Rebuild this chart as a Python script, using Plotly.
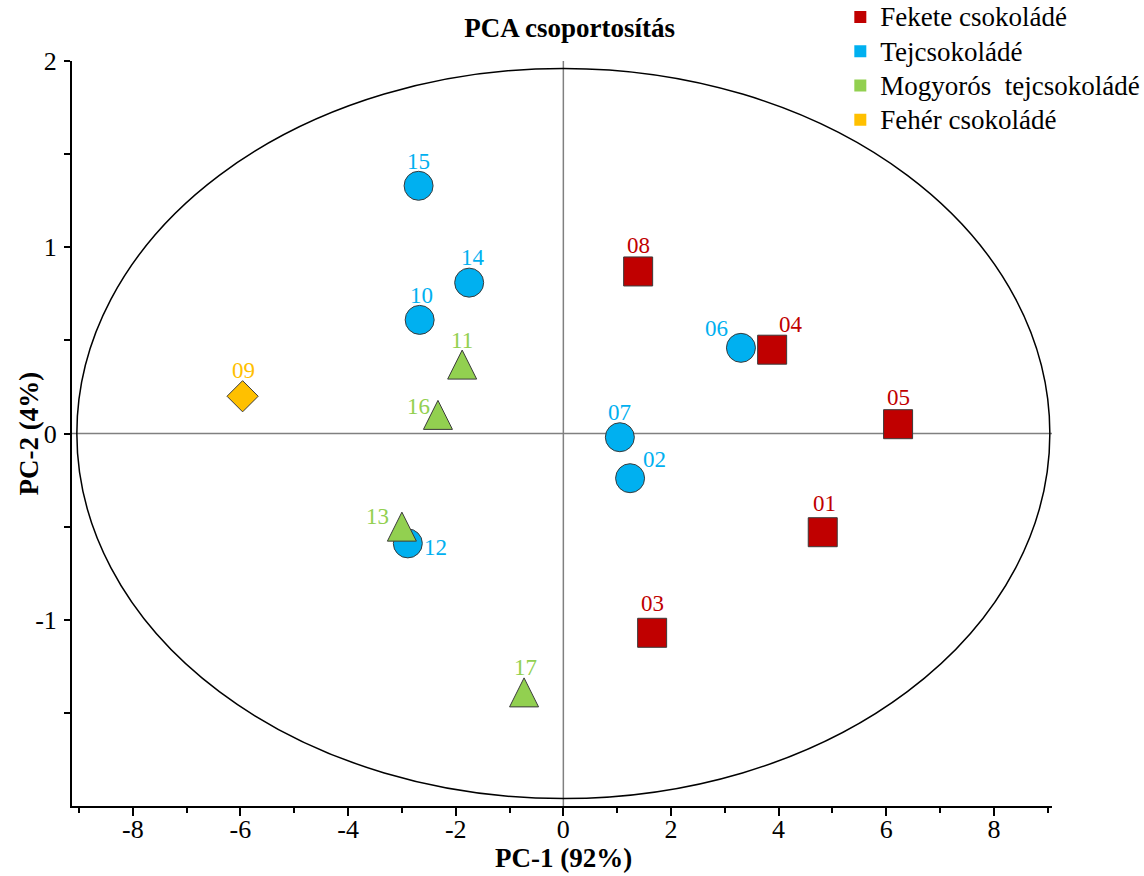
import plotly.graph_objects as go

# ---------------- data ----------------
groups = ["Fekete csokoládé", "Tejcsokoládé", "Mogyorós&nbsp; tejcsokoládé", "Fehér csokoládé"]

dark_ids = ["01", "03", "04", "05", "08"]
dark_pc1 = [4.82, 1.65, 3.88, 6.22, 1.39]
dark_pc2 = [-0.53, -1.07, 0.45, 0.05, 0.87]

milk_ids = ["02", "06", "07", "10", "12", "14", "15"]
milk_pc1 = [1.24, 3.30, 1.05, -2.67, -2.89, -1.75, -2.69]
milk_pc2 = [-0.24, 0.46, -0.02, 0.61, -0.59, 0.81, 1.33]

nut_ids = ["11", "13", "16", "17"]
nut_pc1 = [-1.88, -3.00, -2.33, -0.73]
nut_pc2 = [0.37, -0.50, 0.10, -1.39]

white_ids = ["09"]
white_pc1 = [-5.96]
white_pc2 = [0.20]

ellipse_rx = 9.04
ellipse_ry = 1.96

x_ticks = [-8, -6, -4, -2, 0, 2, 4, 6, 8]
x_ticktext = ["-8", "-6", "-4", "-2", "0", "2", "4", "6", "8"]
y_ticks = [-1, 0, 1, 2]
y_ticktext = ["-1", "0", "1", "2"]
y_minor = [-1.5, -0.5, 0.5, 1.5]

title_text = "PCA csoportosítás"
x_title = "PC-1 (92%)"
y_title = "PC-2 (4%)"

# ---------------- styles ----------------
FONT = "Liberation Serif"
colors = ["#C00000", "#00B0F0", "#92D050", "#FFC000"]
EDGE = "#3a3a3a"

# label pixel offsets (dx, dy) per id; dy positive = up
label_offsets = {
    "01": (2, 29), "03": (0, 29), "04": (19, 25), "05": (0, 27), "08": (0, 26),
    "02": (24, 19), "06": (-24, 19), "07": (0, 25), "10": (2, 24), "12": (28, -4),
    "14": (4, 25), "15": (0, 24),
    "11": (0, 24), "13": (-24, 10), "16": (-19, 8), "17": (1, 25),
    "09": (1, 26),
}

fig = go.Figure()

series = [
    (dark_ids, dark_pc1, dark_pc2, dict(symbol="square", size=29)),
    (milk_ids, milk_pc1, milk_pc2, dict(symbol="circle", size=29)),
    (nut_ids, nut_pc1, nut_pc2, dict(symbol="arrow-down", size=29, angle=180, standoff=14.5)),
    (white_ids, white_pc1, white_pc2, dict(symbol="diamond", size=24)),
]

# ellipse and crosshair
fig.add_shape(type="circle", xref="x", yref="y",
              x0=-ellipse_rx, x1=ellipse_rx, y0=-ellipse_ry, y1=ellipse_ry,
              line=dict(color="black", width=1.5), layer="below")
fig.add_shape(type="line", xref="x", yref="paper", x0=0, x1=0, y0=0, y1=1,
              line=dict(color="#808080", width=1.5), layer="below")
fig.add_shape(type="line", xref="paper", yref="y", x0=0, x1=1, y0=0, y1=0,
              line=dict(color="#808080", width=1.5), layer="below")

for (ids, xs, ys, mk), name, col in zip(series, groups, colors):
    fig.add_trace(go.Scatter(
        x=xs, y=ys, mode="markers", showlegend=False, hoverinfo="text", text=ids,
        marker=dict(color=col, line=dict(color=EDGE, width=1), **mk),
    ))
    for i, xv, yv in zip(ids, xs, ys):
        dx, dy = label_offsets[i]
        fig.add_annotation(x=xv, y=yv, text=i, showarrow=False, xshift=dx, yshift=dy,
                           font=dict(family=FONT, size=23, color=col))

# legend entries (square swatches)
for name, col in zip(groups, colors):
    fig.add_trace(go.Scatter(x=[None], y=[None], mode="markers",
                             name='<span style="font-size:27px">' + name + "</span>",
                             marker=dict(symbol="square", size=14, color=col, line=dict(width=0))))

# axis titles as annotations for exact placement
fig.add_annotation(xref="paper", yref="paper", x=(563 - 72) / 980, y=-(858 - 806) / 745,
                   xanchor="center", yanchor="middle", showarrow=False, borderpad=0,
                   text="<b>" + x_title + "</b>", font=dict(family=FONT, size=27))
fig.add_annotation(xref="paper", yref="paper", x=-(72 - 28) / 980, y=0.5,
                   xanchor="center", yanchor="middle", showarrow=False, textangle=-90,
                   text="<b>" + y_title + "</b>", font=dict(family=FONT, size=27))

fig.update_layout(
    width=1144, height=876,
    margin=dict(l=72, r=92, t=61, b=70, autoexpand=False),
    paper_bgcolor="white", plot_bgcolor="white",
    font=dict(family=FONT, size=26, color="black"),
    title=dict(text="<b>" + title_text + "</b>", x=0.498, xanchor="center",
               y=1 - 28 / 876, yanchor="middle", font=dict(family=FONT, size=27)),
    legend=dict(x=0.784, xanchor="left", y=1.0886, yanchor="top",
                bgcolor="rgba(0,0,0,0)", font=dict(family=FONT, size=24),
                itemsizing="constant", tracegroupgap=0),
    showlegend=True,
)

fig.update_xaxes(
    range=[-9.13, 9.08], tickvals=x_ticks, ticktext=x_ticktext,
    showgrid=False, zeroline=False, automargin=False,
    showline=True, linecolor="black", linewidth=2,
    ticks="outside", ticklen=8, tickwidth=2, tickcolor="black",
    minor=dict(dtick=1, tick0=0, ticks="outside", ticklen=5, tickwidth=2, tickcolor="black"),
    tickfont=dict(family=FONT, size=26), ticklabelstandoff=-9,
)
fig.update_yaxes(
    range=[-2, 2], tickvals=y_ticks, ticktext=y_ticktext,
    showgrid=False, zeroline=False, automargin=False,
    showline=True, linecolor="black", linewidth=2,
    ticks="outside", ticklen=6, tickwidth=2, tickcolor="black",
    minor=dict(tickvals=y_minor, ticks="outside", ticklen=6, tickwidth=2, tickcolor="black"),
    tickfont=dict(family=FONT, size=26), ticklabelstandoff=2,
)

fig.write_html("out.html")
